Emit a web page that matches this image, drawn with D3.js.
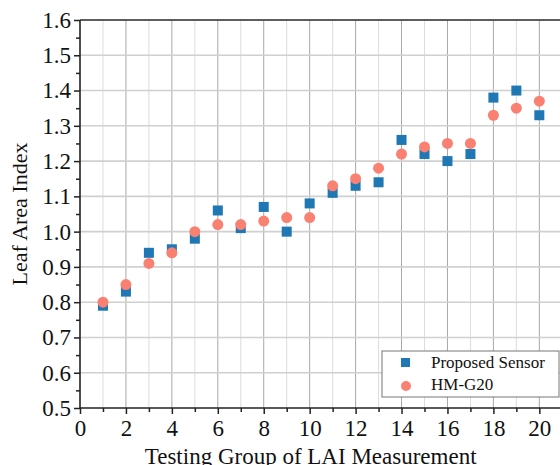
<!DOCTYPE html>
<html lang="en">
<head>
    <meta charset="UTF-8">
    <title>LAI</title>
    <style>
        body { margin: 0; background: #fff; }
        svg { display: block; }
        svg text { font-family: "Liberation Serif", "Times New Roman", serif !important; }
    </style>
</head>
<body>
    <div id="chart"></div>
    <script src="https://d3js.org/d3.v7.min.js"></script>
    <script>
        // Daten
        var groups = d3.range(1, 21);
        var proposedSensor = [0.79, 0.83, 0.94, 0.95, 0.98, 1.06, 1.01, 1.07, 1.00, 1.08,
                              1.11, 1.13, 1.14, 1.26, 1.22, 1.20, 1.22, 1.38, 1.40, 1.33];
        var hmG20 = [0.80, 0.85, 0.91, 0.94, 1.00, 1.02, 1.02, 1.03, 1.04, 1.04,
                     1.13, 1.15, 1.18, 1.22, 1.24, 1.25, 1.25, 1.33, 1.35, 1.37];
        var xTicks = d3.range(0, 21, 2);
        var yTicks = d3.range(5, 17).map(d => d / 10);
        var seriesNames = ["Proposed Sensor", "HM-G20"];

        var width = 560, height = 465;
        var margin = {top: 20, right: 0, bottom: 57, left: 80};

        var svg = d3.select("#chart").append("svg")
            .attr("width", width)
            .attr("height", height);

        var x = d3.scaleLinear().domain([0, 20.9]).range([margin.left, width - margin.right]);
        var y = d3.scaleLinear().domain([0.5, 1.6]).range([height - margin.bottom, margin.top]);

        // Gitterlinien
        var grid = svg.append("g");
        grid.selectAll("line.v")
            .data(d3.range(1, 21))
            .join("line")
            .attr("class", "v")
            .attr("x1", d => x(d)).attr("x2", d => x(d))
            .attr("y1", y(0.5)).attr("y2", y(1.6))
            .attr("stroke", d => d % 2 === 0 ? "#a8a8a8" : "#dcdcdc")
            .attr("stroke-width", 1);
        grid.selectAll("line.h")
            .data(yTicks.slice(1))
            .join("line")
            .attr("class", "h")
            .attr("x1", x(0)).attr("x2", width)
            .attr("y1", d => y(d)).attr("y2", d => y(d))
            .attr("stroke", "#d0d0d0")
            .attr("stroke-width", 1.6);

        // Achsen
        var xAxis = d3.axisBottom(x).tickValues(xTicks).tickSize(6).tickPadding(6).tickFormat(d3.format("d"));
        var xMinor = d3.axisBottom(x).tickValues(d3.range(1, 21, 2)).tickSize(4).tickFormat("");
        var yAxis = d3.axisLeft(y).tickValues(yTicks).tickSize(6).tickPadding(3).tickFormat(d3.format(".1f"));
        var yMinor = d3.axisLeft(y).tickValues(d3.range(11).map(d => 0.55 + d / 10)).tickSize(4).tickFormat("");

        function styleAxis(g) {
            g.attr("font-family", "Liberation Serif").attr("font-size", 23);
            g.select(".domain").remove();
            g.selectAll("line").attr("stroke", "#222").attr("stroke-width", 1.5);
            g.selectAll("text").attr("fill", "#111");
        }

        svg.append("g").attr("transform", `translate(0,${y(0.5)})`).call(xAxis).call(styleAxis);
        svg.append("g").attr("transform", `translate(0,${y(0.5)})`).call(xMinor).call(styleAxis);
        svg.append("g").attr("transform", `translate(${x(0)},0)`).call(yAxis).call(styleAxis);
        svg.append("g").attr("transform", `translate(${x(0)},0)`).call(yMinor).call(styleAxis);

        // Achsenlinien (links, unten, oben)
        svg.append("line").attr("x1", x(0)).attr("x2", x(0)).attr("y1", y(0.5)).attr("y2", y(1.6))
            .attr("stroke", "#222").attr("stroke-width", 1.6);
        svg.append("line").attr("x1", x(0)).attr("x2", width).attr("y1", y(0.5)).attr("y2", y(0.5))
            .attr("stroke", "#222").attr("stroke-width", 1.6);
        svg.append("line").attr("x1", x(0)).attr("x2", width).attr("y1", y(1.6)).attr("y2", y(1.6))
            .attr("stroke", "#333").attr("stroke-width", 1.6);

        // Punkte
        var blue = "#1f77b4", salmon = "#fa8072";
        var s = 10;
        svg.append("g").selectAll("rect")
            .data(groups)
            .join("rect")
            .attr("x", (d, i) => x(d) - s / 2)
            .attr("y", (d, i) => y(proposedSensor[i]) - s / 2)
            .attr("width", s).attr("height", s)
            .attr("fill", blue);
        svg.append("g").selectAll("circle")
            .data(groups)
            .join("circle")
            .attr("cx", d => x(d))
            .attr("cy", (d, i) => y(hmG20[i]))
            .attr("r", 5.5)
            .attr("fill", salmon);

        // Achsentitel
        svg.append("text")
            .attr("x", (x(0) + x(20)) / 2 + 1)
            .attr("y", 464)
            .attr("text-anchor", "middle")
            .style("font-size", "23px")
            .attr("fill", "#111")
            .text("Testing Group of LAI Measurement");
        svg.append("text")
            .attr("transform", `translate(27,${(y(0.5) + y(1.6)) / 2}) rotate(-90)`)
            .attr("text-anchor", "middle")
            .style("font-size", "22px")
            .attr("fill", "#111")
            .text("Leaf Area Index");

        // Legende
        var legend = svg.append("g").attr("transform", "translate(382,351)");
        legend.append("rect").attr("width", 177).attr("height", 46)
            .attr("fill", "#fff").attr("stroke", "#777").attr("stroke-width", 1);
        legend.append("rect").attr("x", 19).attr("y", 7).attr("width", 9).attr("height", 9).attr("fill", blue);
        legend.append("circle").attr("cx", 24).attr("cy", 35).attr("r", 5).attr("fill", salmon);
        legend.selectAll("text.lab")
            .data(seriesNames)
            .join("text")
            .attr("class", "lab")
            .attr("x", 49)
            .attr("y", (d, i) => 17 + i * 22)
            .style("font-size", "17px")
            .attr("fill", "#111")
            .text(d => d);
    </script>
</body>
</html>
